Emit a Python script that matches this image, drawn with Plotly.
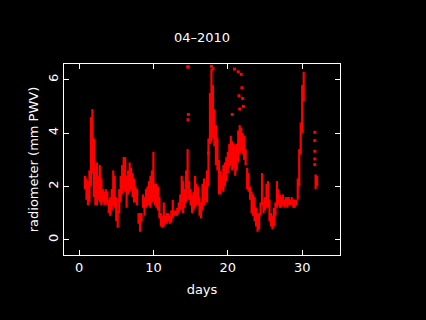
import plotly.graph_objects as go

# Per time step, lowest and highest PWV values seen
days = [0.8, 1.0, 1.2, 1.4, 1.6, 1.8, 2.0, 2.2, 2.4, 2.6, 2.8, 3.0, 3.2, 3.4, 3.6, 3.8,
        4.0, 4.2, 4.4, 4.6, 4.8, 5.0, 5.2, 5.4, 5.6, 5.8, 6.0, 6.2, 6.4, 6.6, 6.8, 7.0,
        7.2, 7.4, 7.6, 7.8, 8.0, 8.2, 8.4, 8.6, 8.8, 9.0, 9.2, 9.4, 9.6, 9.8, 10.0, 10.2,
        10.4, 10.6, 10.8, 11.0, 11.2, 11.4, 11.6, 11.8, 12.0, 12.2, 12.4, 12.6, 12.8, 13.0,
        13.2, 13.4, 13.6, 13.8, 14.0, 14.2, 14.4, 14.6, 14.8, 15.0, 15.2, 15.4, 15.6, 15.8,
        16.0, 16.2, 16.4, 16.6, 16.8, 17.0, 17.2, 17.4, 17.6, 17.8, 18.0, 18.2, 18.4, 18.6,
        18.8, 19.0, 19.2, 19.4, 19.6, 19.8, 20.0, 20.2, 20.4, 20.6, 20.8, 21.0, 21.2, 21.4,
        21.6, 21.8, 22.0, 22.2, 22.4, 22.6, 22.8, 23.0, 23.2, 23.4, 23.6, 23.8, 24.0, 24.2,
        24.4, 24.6, 24.8, 25.0, 25.2, 25.4, 25.6, 25.8, 26.0, 26.2, 26.4, 26.6, 26.8, 27.0,
        27.2, 27.4, 27.6, 27.8, 28.0, 28.2, 28.4, 28.6, 28.8, 29.0, 29.2, 29.4, 29.6, 29.8,
        30.0, 30.2, 31.8, 32.0]
pwv_low = [1.9, 1.5, 1.3, 1.4, 2.0, 2.5, 1.6, 1.3, 1.3, 1.5, 1.4, 1.3, 1.4, 1.3, 1.4, 1.3,
           1.0, 0.9, 1.1, 1.3, 1.2, 0.7, 0.45, 1.0, 1.4, 1.7, 1.9, 1.8, 1.2, 1.7, 1.8, 1.9,
           1.6, 1.4, 1.4, 1.3, 0.6, 0.3, 0.7, 1.2, 0.9, 1.2, 1.3, 1.3, 1.2, 1.4, 1.6, 1.3,
           1.2, 1.1, 0.8, 0.5, 0.45, 0.5, 0.6, 0.6, 0.7, 0.6, 0.65, 0.8, 0.9, 0.9,
           0.9, 1.0, 1.1, 1.4, 1.0, 1.2, 1.4, 1.9, 1.5, 1.3, 1.0, 1.1, 1.2, 1.3,
           1.3, 0.9, 0.8, 1.1, 1.3, 1.5, 1.4, 2.0, 3.6, 3.7, 3.8, 3.5, 2.8, 2.6,
           1.7, 1.7, 1.9, 1.8, 2.0, 2.2, 2.5, 2.7, 2.8, 2.6, 2.7, 2.4, 2.6, 2.9,
           3.2, 3.3, 3.2, 3.0, 2.8, 1.9, 1.8, 1.5, 1.0, 0.9, 0.7, 0.5, 0.3, 0.4,
           0.9, 1.3, 1.0, 1.1, 1.2, 1.2, 0.7, 0.5, 0.4, 0.5, 0.9, 1.2, 1.3, 1.2,
           1.2, 1.3, 1.2, 1.3, 1.2, 1.3, 1.3, 1.3, 1.2, 1.2, 1.3, 1.5, 2.0, 3.2,
           4.0, 5.2, 1.9, 2.0]
pwv_high = [2.4, 2.3, 2.2, 2.6, 4.6, 4.9, 3.8, 2.6, 2.9, 2.4, 2.8, 2.3, 1.9, 1.8, 1.9, 1.8,
            1.5, 1.6, 1.9, 2.6, 2.4, 1.6, 1.1, 1.9, 2.4, 2.8, 3.1, 3.1, 2.4, 2.6, 2.9, 2.7,
            2.5, 2.3, 2.0, 1.9, 1.0, 1.0, 1.0, 1.7, 1.6, 1.9, 2.0, 2.2, 2.4, 2.6, 3.3, 2.1,
            2.1, 2.0, 1.6, 1.0, 0.9, 1.4, 0.9, 1.0, 1.0, 0.9, 1.1, 1.5, 1.1, 1.1,
            1.2, 1.4, 1.7, 2.4, 2.2, 1.9, 2.6, 3.4, 2.2, 1.9, 1.7, 1.8, 2.4, 2.1,
            2.0, 1.6, 1.4, 2.1, 2.3, 2.0, 2.6, 3.8, 5.5, 6.4, 5.8, 4.9, 4.3, 3.8,
            3.0, 2.6, 2.4, 2.8, 2.9, 3.1, 3.3, 3.6, 3.9, 3.7, 3.6, 3.5, 3.6, 4.1,
            4.3, 4.2, 4.0, 3.9, 3.4, 2.7, 2.5, 2.0, 1.8, 1.7, 1.6, 1.2, 1.0, 1.0,
            1.4, 2.5, 1.4, 1.6, 2.1, 2.2, 1.5, 1.0, 0.9, 1.2, 1.4, 2.2, 1.9, 1.7,
            1.6, 1.7, 1.5, 1.6, 1.6, 1.6, 1.5, 1.6, 1.5, 1.5, 1.5, 2.3, 3.4, 4.4,
            5.8, 6.3, 2.45, 2.4]

# Isolated readings
iso_days = [14.6, 14.7, 14.7, 14.65, 17.8, 18.0, 17.4, 20.6, 20.9, 21.4, 21.5, 21.6,
            21.8, 21.9, 22.0, 22.1, 31.7, 31.7, 31.7, 31.7, 31.7]
iso_pwv = [6.48, 6.48, 4.7, 4.5, 6.5, 6.4, 3.25, 4.7, 6.4, 6.3, 5.4, 4.9,
           6.2, 5.7, 5.3, 5.0, 4.03, 3.72, 3.32, 3.03, 2.82]

seg_x, seg_y = [], []
for d, lo, hi in zip(days, pwv_low, pwv_high):
    seg_x += [d, d, None]
    seg_y += [lo, hi, None]

fig = go.Figure()
fig.add_trace(go.Scatter(x=seg_x, y=seg_y, mode="lines",
                         line=dict(color="#ff0000", width=2.2),
                         hoverinfo="skip", showlegend=False))
fig.add_trace(go.Scatter(x=iso_days, y=iso_pwv, mode="markers",
                         marker=dict(color="#ff0000", size=3, symbol="square",
                                     line=dict(width=0)),
                         showlegend=False))

font = dict(family="DejaVu Sans", size=13, color="white")
axis_common = dict(showgrid=False, zeroline=False, showline=True, linecolor="white",
                   linewidth=1, mirror="all", ticks="inside", ticklen=5,
                   tickcolor="white", tickwidth=1, tickfont=font)
fig.update_layout(
    width=426, height=320,
    paper_bgcolor="black", plot_bgcolor="black",
    margin=dict(l=64, r=86, t=64, b=65),
    font=font,
    title=dict(text="04\u20132010", x=0.5, xref="paper", xanchor="center",
               y=1 - 37 / 320, yanchor="middle", font=font),
    xaxis=dict(axis_common, range=[-2.02, 35.08], tickvals=[0, 10, 20, 30],
               title=dict(text="days", font=font, standoff=11)),
    yaxis=dict(axis_common, range=[-0.57, 6.59], tickvals=[0, 2, 4, 6], tickangle=-90,
               title=dict(text="radiometer (mm PWV)", font=font, standoff=4)),
)
fig.write_html("out.html", config={"displayModeBar": False},
               post_script="document.body.style.margin='0';document.body.style.background='black';")
